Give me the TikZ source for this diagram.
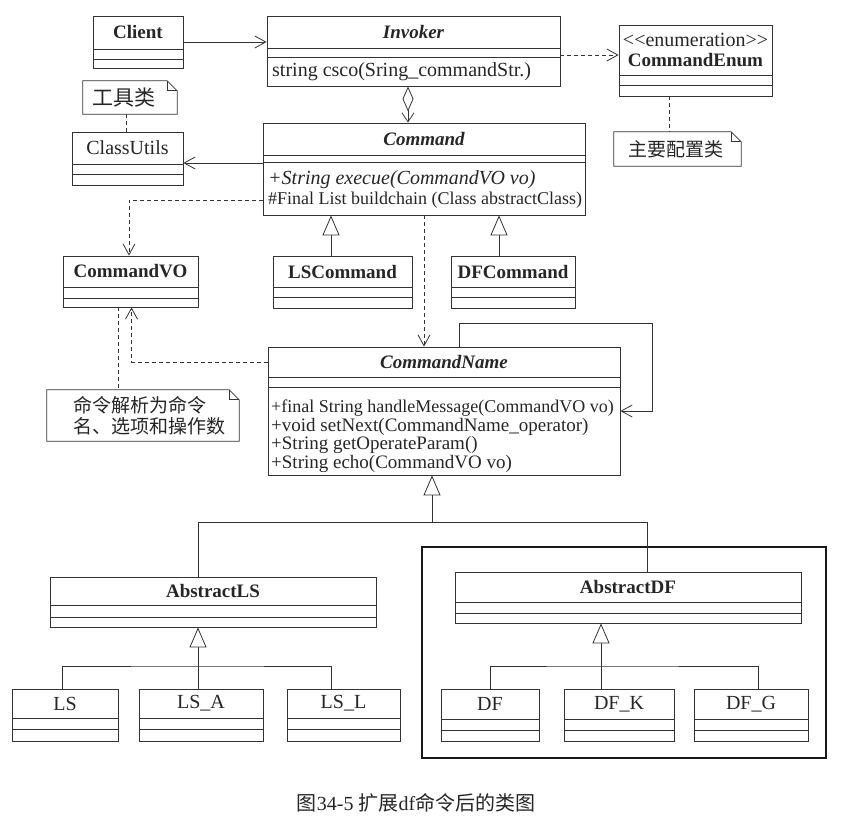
\documentclass[tikz,border=0pt]{standalone}
\usepackage{fontspec}
\setmainfont{Liberation Serif}
\newfontfamily\cjk{Noto Sans CJK SC}
\usetikzlibrary{arrows.meta}
\tikzset{
  uml/.style={draw=black!80, line width=0.8pt},
  classbox/.style={uml, fill=white, inner sep=0pt},
  classline/.style={uml},
  classname/.style={font=\fontsize{19}{21}\selectfont\bfseries, text=black!85, inner sep=0pt, align=center},
  ops/.style={font=\fontsize{18}{20}\selectfont, text=black!85, inner sep=0pt, anchor=west},
  notebox/.style={inner sep=0pt},
  notetext/.style={font=\cjk\fontsize{19}{21}\selectfont, text=black!85, inner sep=0pt, align=left},
  assoc/.style={uml, -{Straight Barb[length=11pt,width=12pt]}},
  dep/.style={assoc, dash pattern=on 4pt off 3pt},
  notelink/.style={uml, dash pattern=on 4pt off 3pt},
  gen/.style={uml, -{Triangle[open,length=20pt,width=17pt,fill=white]}},
  aggr/.style={uml, {Diamond[open,length=25pt,width=11pt,fill=white]}-{Straight Barb[length=9pt,width=12pt]}},
  pkgframe/.style={draw=black!90, line width=2pt, inner sep=0pt}
}
\newcommand{\plainname}[1]{{\fontsize{20}{22}\selectfont\mdseries #1}}
\newcommand{\umlclass}[8]{%
  \node[classbox, minimum width={#4-#2}, minimum height={#5-#3}] (#1) at ({(#2+#4)/2},{(#3+#5)/2}) {};
  \draw[classline] (#2,#6) -- (#4,#6) (#2,#7) -- (#4,#7);
  \node[classname] (#1-name) at ({(#2+#4)/2},{(#3+#6)/2}) {#8};
}
\newcommand{\umlnote}[7]{%
  \node[notebox, minimum width={#4-#2}, minimum height={#5-#3}] (#1) at ({(#2+#4)/2},{(#3+#5)/2}) {};
  \draw[uml, fill=white] (#1.north west) -- ([xshift=-10pt]#1.north east) -- ([yshift=-10pt]#1.north east) -- (#1.south east) -- (#1.south west) -- cycle;
  \draw[uml] ([xshift=-10pt]#1.north east) |- ([yshift=-10pt]#1.north east);
  \node[notetext, anchor=west] (#1-text) at ([xshift=#6pt]#1.west) {#7};
}
\begin{document}
\begin{tikzpicture}[x=1pt,y=-1pt]
\useasboundingbox[fill=white] (0,0) rectangle (842,824);
\node[pkgframe, minimum width=404, minimum height=211] (dfpkg) at (624,652.5) {};
\umlclass{Client}{93}{16}{183}{68}{49}{59}{Client}
\umlclass{Invoker}{267}{16}{560}{86}{48}{57}{\itshape Invoker}
\umlclass{CommandEnum}{619}{25}{772}{96}{75}{85}{\plainname{<\kern0pt<enumeration>\kern0pt>}\\[-1pt]CommandEnum}
\umlclass{ClassUtils}{72}{132}{183}{185}{164}{174}{\plainname{ClassUtils}}
\umlclass{Command}{263}{123}{585}{215}{155}{162}{\itshape Command}
\umlclass{CommandVO}{63}{256}{198}{307}{287}{298}{CommandVO}
\umlclass{LSCommand}{273}{256}{412}{308}{287}{297}{LSCommand}
\umlclass{DFCommand}{451}{256}{575}{308}{287}{297}{DFCommand}
\umlclass{CommandName}{268}{347}{620}{475}{377}{387}{\itshape CommandName}
\umlclass{AbstractLS}{50}{577}{376}{627}{605}{617}{AbstractLS}
\umlclass{LS}{12}{689}{118}{741}{718}{729}{\plainname{LS}}
\umlclass{LS_A}{139}{689}{263}{741}{718}{729}{\plainname{LS\_A}}
\umlclass{LS_L}{287}{689}{400}{741}{718}{729}{\plainname{LS\_L}}
\umlclass{AbstractDF}{455}{572}{801}{623}{602}{613}{AbstractDF}
\umlclass{DF}{441}{689}{539}{741}{719}{730}{\plainname{DF}}
\umlclass{DF_K}{564}{689}{674}{741}{719}{730}{\plainname{DF\_K}}
\umlclass{DF_G}{694}{689}{808}{741}{719}{730}{\plainname{DF\_G}}
\node[ops, font=\fontsize{20}{22}\selectfont] (Invoker-op1) at (272,71.5) {string csco(Sring\_commandStr.)};
\node[ops, font=\fontsize{20}{22}\selectfont\itshape] (Command-op1) at (268,180) {+String execue(CommandVO vo)};
\node[ops] (Command-op2) at (268,200) {\#Final List buildchain (Class abstractClass)};
\node[ops] (CommandName-op1) at (271,408) {+final String handleMessage(CommandVO vo)};
\node[ops, font=\fontsize{19}{21}\selectfont] (CommandName-op2) at (271,426.5) {+void setNext(CommandName\_operator)};
\node[ops, font=\fontsize{19}{21}\selectfont] (CommandName-op3) at (271,445) {+String getOperateParam()};
\node[ops, font=\fontsize{19}{21}\selectfont] (CommandName-op4) at (271,463.5) {+String echo(CommandVO vo)};
\umlnote{toolnote}{83}{81}{177}{114}{9}{\fontsize{21}{23}\selectfont 工具类}
\umlnote{cfgnote}{614}{132}{741}{166}{14}{主要配置类}
\umlnote{parsenote}{47}{390}{239}{441}{26}{命令解析为命令\\[0pt]名、选项和操作数}
\draw[assoc] (Client) -- (Client -| Invoker.west);
\coordinate (ie) at ([yshift=-4pt]Invoker.east);
\draw[dep] (ie) -- (ie -| CommandEnum.west);
\coordinate (ag) at ([xshift=-5.5pt]Invoker.south);
\draw[aggr] (ag) -- (ag |- Command.north);
\coordinate (ce) at ([xshift=-26.5pt]CommandEnum.south);
\draw[notelink] (ce) -- (ce |- cfgnote.north);
\draw[notelink] ([xshift=-1.5pt]ClassUtils.north) -- ([xshift=-1.5pt]ClassUtils.north |- toolnote.south);
\coordinate (cu) at ([yshift=-4.5pt]ClassUtils.east);
\draw[assoc] (cu -| Command.west) -- (cu);
\draw[dep] ([yshift=-31pt]Command.west) -| ([xshift=-1.5pt]CommandVO.north);
\coordinate (lsc) at ([xshift=-11.5pt]LSCommand.north);
\draw[gen] (lsc) -- (lsc |- Command.south);
\coordinate (dfc) at ([xshift=-14pt]DFCommand.north);
\draw[gen] (dfc) -- (dfc |- Command.south);
\draw[dep] (Command.south) -- (Command.south |- CommandName.north);
\draw[dep] (CommandName.west |- CommandName-name) -| ([xshift=1pt]CommandVO.south);
\coordinate (vn) at ([xshift=-12.5pt]CommandVO.south);
\draw[notelink] (vn) -- (vn |- parsenote.north);
\coordinate (loop) at (652,323);
\draw[assoc] ([xshift=15pt]CommandName.north) |- (loop) |- (CommandName.east);
\coordinate (cn) at ([xshift=-12pt]CommandName.south);
\coordinate (bus) at (0,522);
\draw[gen] ([xshift=-15pt]AbstractLS.north) |- (cn |- bus) -- (cn);
\draw[uml] ([xshift=19pt]AbstractDF.north) |- (cn |- bus);
\coordinate (als) at ([xshift=-15pt]AbstractLS.south);
\coordinate (lsbus) at (0,666);
\draw[gen] (als |- LS_A.north) -- (als);
\draw[uml] ([xshift=-3pt]LS.north) |- (als |- lsbus) -| ([xshift=-12.5pt]LS_L.north);
\coordinate (adf) at ([xshift=-27pt]AbstractDF.south);
\draw[gen] (adf |- DF_K.north) -- (adf);
\draw[uml] (DF.north) |- (adf |- lsbus) -| ([xshift=7pt]DF_G.north);
\node[font=\fontsize{20}{22}\selectfont, text=black!85, inner sep=0pt] (caption) at (416,803) {{\cjk 图}34-5 {\cjk 扩展}df{\cjk 命令后的类图}};
\end{tikzpicture}
\end{document}
